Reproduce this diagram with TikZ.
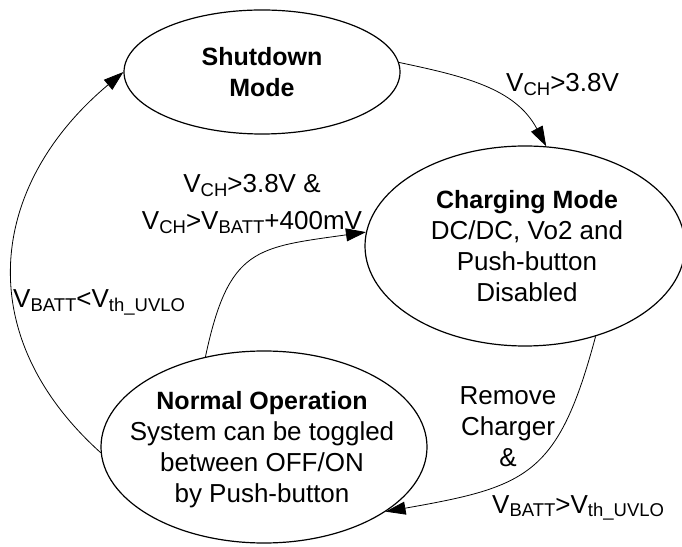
\documentclass[tikz,border=0pt]{standalone}
\usepackage{fontspec}
\setmainfont{Liberation Sans}
\usetikzlibrary{shapes.geometric,arrows.meta}
\newcommand{\lo}[1]{\raisebox{-3.5pt}{\fontsize{18.5}{18.5}\selectfont #1}}
\begin{document}
\begin{tikzpicture}[x=1pt,y=1pt,
  stateshape/.style={ellipse,draw,line width=1.2pt,inner sep=0pt},
  statetext/.style={align=center,inner sep=0pt,font=\fontsize{26}{31}\selectfont},
  cond/.style={inner sep=0pt,font=\fontsize{26}{31}\selectfont},
  trans/.style={line width=0.8pt,-{Triangle[length=20pt,width=13pt]}}]
\useasboundingbox (0,0) rectangle (682,546);
\node[stateshape,minimum width=276pt,minimum height=124pt] (S) at (262,474) {};
\node[stateshape,minimum width=320pt,minimum height=200pt] (C) at (525,300) {};
\node[stateshape,minimum width=326pt,minimum height=192pt] (N) at (264,99) {};
\node[statetext] (St) at (262,474) {{\fontsize{25}{31}\selectfont\bfseries Shutdown}\\{\fontsize{25}{31}\selectfont\bfseries Mode}};
\node[statetext] (Ct) at (527,300) {{\fontsize{25}{31}\selectfont\bfseries Charging Mode}\\DC/DC, Vo2 and\\Push-button\\Disabled};
\node[statetext] (Nt) at (262,96) {{\fontsize{25}{31}\selectfont\bfseries Normal Operation}\\System can be toggled\\between OFF/ON\\by Push-button};
\draw[trans] (S.4) to[out=-12,in=118] (C.78);
\draw[trans] (N.123) to[out=78,in=188,looseness=1.4] (C.175);
\draw[trans] (C.-52) to[out=255,in=10,looseness=1.35] (N.-28);
\draw[trans] (N.182) to[out=138,in=220,looseness=1.18] (S.180);
\node[cond,anchor=base west] (L1) at (506,454) {V\lo{CH}>3.8V};
\node[cond,anchor=base] (L2a) at (252,353) {V\lo{CH}>3.8V \&};
\node[cond,anchor=base] (L2b) at (252,316) {V\lo{CH}>V\lo{BATT}+400mV};
\node[cond,anchor=base west] (L3) at (13,238) {V\lo{BATT}<V\lo{th\_UVLO}};
\node[cond,align=center] (L4) at (508,119) {Remove\\Charger\\\&};
\node[cond,anchor=base west] (L5) at (492,33) {V\lo{BATT}>V\lo{th\_UVLO}};
\end{tikzpicture}
\end{document}
